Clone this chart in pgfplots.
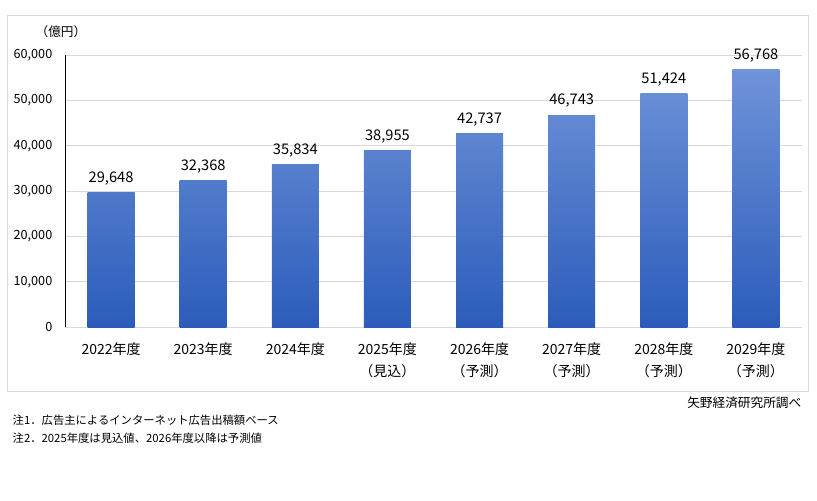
\documentclass[border=0pt]{standalone}
\usepackage{fontspec}
\setmainfont{Noto Sans CJK JP}
\usepackage{pgfplots}
\pgfplotsset{compat=1.18}
\definecolor{barTop}{RGB}{114,150,218}
\definecolor{barBot}{RGB}{44,92,186}
\begin{document}
\begin{tikzpicture}[x=0.75pt,y=-0.75pt]
\path[fill=white] (0,0) rectangle (817,500);
\draw[black!15, line width=0.75pt] (7,15) rectangle (808,391);
\begin{axis}[
  at={(48.75pt,-245.25pt)}, anchor=south west,
  scale only axis, width=552.75pt, height=204pt,
  xmin=-0.5, xmax=7.5, ymin=0, ymax=60000,
  ytick={0,10000,...,60000},
  xtick={0,...,7},
  xticklabels={2022年度,2023年度,2024年度,{2025年度\\（見込）},{2026年度\\（予測）},{2027年度\\（予測）},{2028年度\\（予測）},{2029年度\\（予測）}},
  xticklabel style={font=\fontsize{10.5}{17}\selectfont, align=center, yshift=-8pt},
  yticklabel style={font=\fontsize{9.5}{11}\selectfont, xshift=-6pt},
  /pgf/number format/assume math mode=true,
  /pgf/number format/.cd, 1000 sep={,}, /pgfplots/.cd,
  scaled y ticks=false,
  major tick length=0pt,
  axis x line=bottom, axis y line=left,
  axis line style={-},
  x axis line style={draw=black!15},
  y axis line style={draw=black, line width=0.75pt},
  ymajorgrids, grid style={black!15, line width=0.6pt},
  ybar, bar width=35.25pt, bar shift=0pt,
  nodes near coords,
  every node near coord/.append style={font=\fontsize{11}{13}\selectfont, /pgf/number format/1000 sep={,}, yshift=2pt},
  clip=false,
]
\addplot[draw=none, top color=barTop!49!barBot, bottom color=barBot] coordinates {(0,29648)};
\addplot[draw=none, top color=barTop!54!barBot, bottom color=barBot] coordinates {(1,32368)};
\addplot[draw=none, top color=barTop!60!barBot, bottom color=barBot] coordinates {(2,35834)};
\addplot[draw=none, top color=barTop!65!barBot, bottom color=barBot] coordinates {(3,38955)};
\addplot[draw=none, top color=barTop!71!barBot, bottom color=barBot] coordinates {(4,42737)};
\addplot[draw=none, top color=barTop!78!barBot, bottom color=barBot] coordinates {(5,46743)};
\addplot[draw=none, top color=barTop!86!barBot, bottom color=barBot] coordinates {(6,51424)};
\addplot[draw=none, top color=barTop!95!barBot, bottom color=barBot] coordinates {(7,56768)};
\end{axis}
\node[font=\fontsize{9.5}{11}\selectfont] at (61,32) {（億円）};
\node[font=\fontsize{9.5}{11}\selectfont, anchor=east] at (806,403) {矢野経済研究所調べ};
\node[font=\fontsize{8.5}{10}\selectfont, anchor=west] at (8,420) {注1．広告主によるインターネット広告出稿額ベース};
\node[font=\fontsize{8.5}{10}\selectfont, anchor=west] at (8,438) {注2．2025年度は見込値、2026年度以降は予測値};
\end{tikzpicture}
\end{document}
